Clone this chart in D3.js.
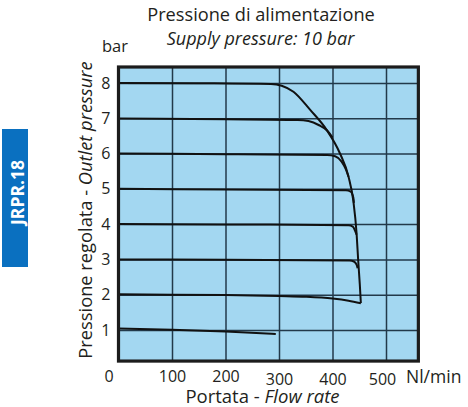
<!DOCTYPE html>
<html><head><meta charset="utf-8">
<script src="https://cdn.jsdelivr.net/npm/d3@7"></script>
<style>body{margin:0;background:#fff}svg{display:block}</style>
</head><body>
<svg id="c" width="468" height="407"></svg>
<script>
const xTicks = [0,100,200,300,400,500];
const yTicks = [1,2,3,4,5,6,7,8];
const curve8 = [[0,8.0],[150,7.99],[285,7.97],[305,7.92],[327,7.75],[358,7.24],[389,6.67],[414,6.0],[430,5.34],[439,4.65],[445,3.74],[448,2.98],[451,2.3],[453,1.76]];
const curve7 = [[0,6.99],[200,6.97],[335,6.95],[355,6.92],[375,6.8],[390,6.65],[400,6.45]];
const curve6 = [[0,6.0],[200,5.98],[390,5.96],[405,5.92],[417,5.77],[425,5.55],[430,5.34]];
const curve5 = [[0,5.0],[200,4.98],[425,4.96],[434,4.92],[439,4.75],[440,4.6]];
const curve4 = [[0,4.0],[200,3.99],[430,3.97],[438,3.93],[443,3.78],[445,3.7]];
const curve3 = [[0,3.0],[200,2.99],[432,2.97],[440,2.94],[445,2.85],[447,2.75]];
const curve2 = [[0,2.01],[100,2.0],[200,1.99],[300,1.96],[350,1.94],[400,1.89],[430,1.83],[453,1.76]];
const curve1 = [[0,1.04],[100,1.01],[200,0.96],[294,0.89]];
const series = [curve8,curve7,curve6,curve5,curve4,curve3,curve2,curve1];

const svg = d3.select("#c");
const font = "'Open Sans', 'Noto Sans', sans-serif";
const txt = "#231f20";
const xMax = 560.5, yMax = 8.45, yBottom = 0.12;
const x = d3.scaleLinear().domain([0,xMax]).range([118.5,118.5+xMax*0.535]);
const y = d3.scaleLinear().domain([0,yMax]).range([365.3,67]);

svg.append("rect").attr("x",x(0)).attr("y",y(yMax)).attr("width",x(xMax)-x(0)).attr("height",y(yBottom)-y(yMax))
  .attr("fill","#a3d7f1");

const g = svg.append("g");
g.append("g").attr("transform",`translate(0,${y(yBottom)})`)
  .call(d3.axisBottom(x).tickValues([100,200,300,400,500]).tickSize(-(y(yBottom)-y(yMax))).tickFormat(""))
  .call(s=>{s.select(".domain").remove();s.selectAll("line").attr("stroke","#22394a").attr("stroke-width",1.5);});
g.append("g").attr("transform",`translate(${x(0)},0)`)
  .call(d3.axisLeft(y).tickValues(yTicks).tickSize(-(x(xMax)-x(0))).tickFormat(""))
  .call(s=>{s.select(".domain").remove();s.selectAll("line").attr("stroke","#22394a").attr("stroke-width",1.5);});

const line = d3.line().x(d=>x(d[0])).y(d=>y(d[1])).curve(d3.curveMonotoneX);
svg.append("g").selectAll("path").data(series).join("path")
  .attr("d",line).attr("fill","none").attr("stroke","#111").attr("stroke-width",2);

svg.append("rect").attr("x",x(0)).attr("y",y(yMax)).attr("width",x(xMax)-x(0)).attr("height",y(yBottom)-y(yMax))
  .attr("fill","none").attr("stroke","#1c1c1c").attr("stroke-width",3.2);

const xa = svg.append("g").attr("transform",`translate(0,${y(yBottom)})`)
  .call(d3.axisBottom(x).tickValues(xTicks).tickSize(0).tickPadding(10).tickFormat(d3.format("d")));
xa.select(".domain").remove();
xa.selectAll("text").attr("font-family",font).attr("font-size",16).attr("fill",txt)
  .attr("dx",d=>d===0?-10:(d===500?-4:0)).attr("dy",d=>d>=300?"0.84em":"0.71em");
const ya = svg.append("g").attr("transform",`translate(${x(0)},0)`)
  .call(d3.axisLeft(y).tickValues(yTicks).tickSize(0).tickPadding(8).tickFormat(d3.format("d")));
ya.select(".domain").remove();
ya.selectAll("text").attr("font-family",font).attr("font-size",16).attr("fill",txt);

svg.append("text").attr("x",261).attr("y",21).attr("text-anchor","middle").attr("font-family",font)
  .attr("font-size",18.2).attr("fill",txt).text("Pressione di alimentazione");
svg.append("text").attr("x",260.5).attr("y",45).attr("text-anchor","middle").attr("font-family",font)
  .attr("font-size",18).attr("font-style","italic").attr("fill",txt).text("Supply pressure: 10 bar");
svg.append("text").attr("x",102).attr("y",52).attr("font-family",font)
  .attr("font-size",16.5).attr("fill",txt).text("bar");
svg.append("text").attr("x",406).attr("y",383).attr("font-family",font)
  .attr("font-size",17.5).attr("fill",txt).text("Nl/min");
const xt = svg.append("text").attr("x",262.5).attr("y",402.5).attr("text-anchor","middle").attr("font-family",font)
  .attr("font-size",18.5).attr("fill",txt);
xt.append("tspan").text("Portata - ");
xt.append("tspan").attr("font-style","italic").text("Flow rate");
const yt = svg.append("text").attr("transform","translate(92,210) rotate(-90)").attr("text-anchor","middle")
  .attr("font-family",font).attr("font-size",18.3).attr("fill",txt);
yt.append("tspan").text("Pressione regolata - ");
yt.append("tspan").attr("font-style","italic").text("Outlet pressure");

svg.append("rect").attr("x",2).attr("y",129).attr("width",26).attr("height",138).attr("fill","#0a70c0");
svg.append("text").attr("transform","translate(23.5,192.5) rotate(-90)").attr("text-anchor","middle")
  .attr("font-family",font).attr("font-weight","bold").attr("font-size",17.5).attr("fill","#fff").text("JRPR.18");
</script>
</body></html>
